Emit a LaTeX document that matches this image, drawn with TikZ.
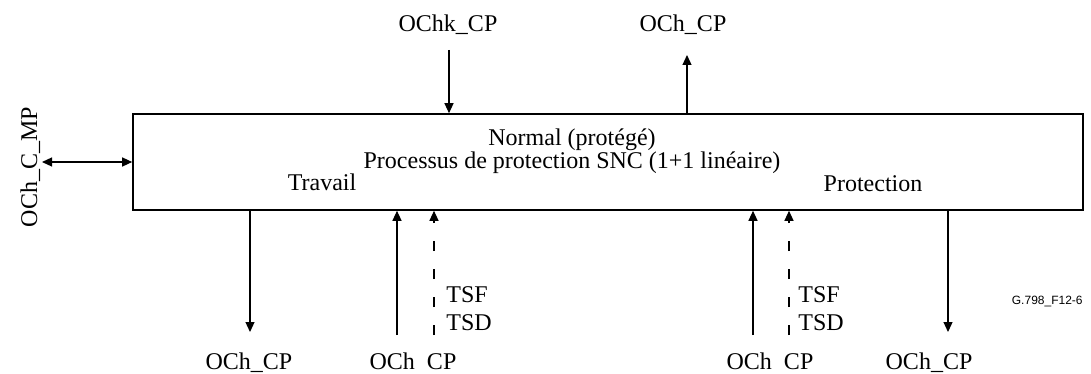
\documentclass[tikz,border=0pt]{standalone}
\usepackage{fontspec}
\setmainfont{Liberation Serif}
\newfontfamily\figsans{Liberation Sans}
\usetikzlibrary{arrows.meta}

\begin{document}
\begin{tikzpicture}[
    x=0.5pt, y=-0.5pt,
    font=\fontsize{12}{14}\selectfont,
    arr/.style={-{Triangle[length=5pt,width=4.5pt]}, line width=0.6pt},
    sig/.style={arr, dash pattern=on 5pt off 9pt},
    lbl/.style={inner sep=0pt, anchor=base}
  ]
  \useasboundingbox (0,0) rectangle (1091,374);
  % the process box
  \node (box) [draw, line width=0.8pt, minimum width=475pt, minimum height=48pt] at (608,162) {};
  \node (normal) [lbl] at (572,145) {Normal (protégé)};
  \node (snc) [lbl] at (572,168) {Processus de protection SNC (1+1 linéaire)};
  \node (trav) [lbl] at (322,190) {Travail};
  \node (prot) [lbl] at (873,191) {Protection};

  % top
  \node (kcp) [lbl] at (448,32) {OChk\_CP};
  \node (tcp) [lbl] at (683,32) {OCh\_CP};
  \coordinate (kin) at (449,50);
  \coordinate (tout) at (687,55);
  \draw[arr] (kin) -- (kin |- box.north);
  \draw[arr] (tout |- box.north) -- (tout);

  % management point
  \node (mp) [lbl, rotate=90] at (37,167) {OCh\_C\_MP};
  \coordinate (mpend) at (42,162);
  \draw[arr, {Triangle[length=5pt,width=4.5pt]}-{Triangle[length=5pt,width=4.5pt]}] (mpend) -- (box.west |- mpend);

  % working side
  \coordinate (wout) at (250,332);
  \coordinate (win) at (397,335);
  \coordinate (wsf) at (434,335);
  \draw[arr] (wout |- box.south) -- (wout);
  \draw[arr] (win) -- (win |- box.south);
  \draw[sig] (wsf) -- (wsf |- box.south);
  \node (wtsf) [lbl, anchor=base west] at (446,302) {TSF};
  \node (wtsd) [lbl, anchor=base west] at (446,330) {TSD};
  \node (woutl) [lbl] at (249,369) {OCh\_CP};
  \node (winl) [lbl] at (413,369) {OCh\phantom{\_}CP};

  % protection side
  \coordinate (pin) at (753,335);
  \coordinate (psf) at (789,335);
  \coordinate (pout) at (948,332);
  \draw[arr] (pin) -- (pin |- box.south);
  \draw[sig] (psf) -- (psf |- box.south);
  \draw[arr] (pout |- box.south) -- (pout);
  \node (ptsf) [lbl, anchor=base west] at (798,302) {TSF};
  \node (ptsd) [lbl, anchor=base west] at (798,330) {TSD};
  \node (pinl) [lbl] at (770,369) {OCh\phantom{\_}CP};
  \node (poutl) [lbl] at (929,369) {OCh\_CP};

  \node (fig) [lbl, anchor=base east, font=\figsans\fontsize{6}{7}\selectfont] at (1083,304) {G.798\_F12-6};
\end{tikzpicture}
\end{document}
